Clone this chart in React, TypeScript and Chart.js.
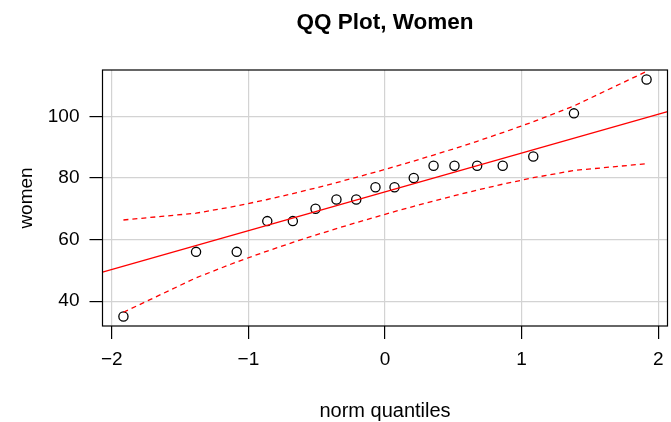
import React, { useEffect, useRef } from 'react';
import { Chart, registerables } from 'chart.js';

Chart.register(...registerables);

const TITLE = 'QQ Plot, Women';
const X_LABEL = 'norm quantiles';
const Y_LABEL = 'women';

const normQuantiles = [
  -1.9145, -1.383, -1.0853, -0.8616, -0.6745, -0.5085, -0.3554, -0.2104, -0.0697,
  0.0697, 0.2104, 0.3554, 0.5085, 0.6745, 0.8616, 1.0853, 1.383, 1.9145,
];
const women = [35, 56, 56, 66, 66, 70, 73, 73, 77, 77, 80, 84, 84, 84, 84, 87, 101, 112];
const upperEnvelope = [
  66.36, 68.56, 70.91, 73.01, 74.93, 76.74, 78.49, 80.21, 81.92,
  83.68, 85.51, 87.45, 89.56, 91.93, 94.73, 98.27, 103.42, 114.62,
];
const lowerEnvelope = [
  36.38, 47.58, 52.73, 56.27, 59.07, 61.44, 63.55, 65.49, 67.32,
  69.08, 70.79, 72.51, 74.26, 76.07, 77.99, 80.09, 82.44, 84.64,
];
const refLineX = [-2.0677, 2.0677];
const refLineY = [49.44, 101.56];

const xTicks = [-2, -1, 0, 1, 2];
const yTicks = [40, 60, 80, 100];
const xRange = [-2.0677, 2.0677];
const yRange = [31.92, 115.08];

const FONT = "'Liberation Sans', Arial, Helvetica, sans-serif";
const fmt = (v: number) => (v < 0 ? '\u2212' + Math.abs(v) : String(v));

const titlePlugin = {
  id: 'rTitle',
  afterDraw(chart: any) {
    const { ctx, chartArea } = chart;
    ctx.save();
    ctx.font = `bold 22.5px ${FONT}`;
    ctx.fillStyle = '#000';
    ctx.textAlign = 'center';
    ctx.textBaseline = 'middle';
    ctx.fillText(TITLE, (chartArea.left + chartArea.right) / 2, 23);
    ctx.restore();
  },
};

const boxPlugin = {
  id: 'rBox',
  afterDatasetsDraw(chart: any) {
    const { ctx, chartArea } = chart;
    ctx.save();
    ctx.strokeStyle = '#000';
    ctx.lineWidth = 1.2;
    ctx.strokeRect(chartArea.left, chartArea.top, chartArea.right - chartArea.left, chartArea.bottom - chartArea.top);
    ctx.restore();
  },
};

export default function App() {
  const ref = useRef<HTMLCanvasElement>(null);

  useEffect(() => {
    if (!ref.current) return;
    Chart.defaults.font.family = FONT;
    const pts = normQuantiles.map((q, i) => ({ x: q, y: women[i] }));
    const up = normQuantiles.map((q, i) => ({ x: q, y: upperEnvelope[i] }));
    const lo = normQuantiles.map((q, i) => ({ x: q, y: lowerEnvelope[i] }));
    const fit = refLineX.map((x, i) => ({ x, y: refLineY[i] }));

    const chart = new Chart(ref.current, {
      type: 'scatter',
      data: {
        datasets: [
          { label: 'fit', data: fit, showLine: true, borderColor: '#ff0000', borderWidth: 1.3, pointRadius: 0 },
          { label: 'upper', data: up, showLine: true, borderColor: '#ff0000', borderWidth: 1.3, borderDash: [5, 4], pointRadius: 0 },
          { label: 'lower', data: lo, showLine: true, borderColor: '#ff0000', borderWidth: 1.3, borderDash: [5, 4], pointRadius: 0 },
          {
            label: 'women',
            data: pts,
            showLine: false,
            pointStyle: 'circle',
            pointRadius: 4.6,
            borderColor: '#000',
            borderWidth: 1.3,
            backgroundColor: 'rgba(0,0,0,0)',
          },
        ],
      },
      options: {
        responsive: false,
        animation: false,
        devicePixelRatio: 1,
        layout: { autoPadding: false, padding: { top: 70, right: 3.5, left: 0, bottom: 0 } },
        plugins: { legend: { display: false }, tooltip: { enabled: false }, title: { display: false } },
        scales: {
          x: {
            type: 'linear',
            min: xRange[0],
            max: xRange[1],
            afterBuildTicks: (s: any) => {
              s.ticks = xTicks.map((v) => ({ value: v }));
            },
            afterFit: (s: any) => {
              s.height = 96;
              s.paddingLeft = 0;
              s.paddingRight = 0;
            },
            grid: { color: '#d3d3d3', lineWidth: 1.2, tickColor: '#000', tickWidth: 1.2, tickLength: 13 },
            border: { display: false },
            ticks: {
              color: '#000',
              font: { size: 19 },
              padding: 9.6,
              maxRotation: 0,
              autoSkip: false,
              callback: (v: any) => fmt(Number(v)),
            },
            title: { display: true, text: X_LABEL, color: '#000', font: { size: 20, lineHeight: 1.1 }, padding: { top: 0, bottom: 0 } },
          },
          y: {
            type: 'linear',
            min: yRange[0],
            max: yRange[1],
            afterBuildTicks: (s: any) => {
              s.ticks = yTicks.map((v) => ({ value: v }));
            },
            afterFit: (s: any) => {
              s.width = 102.5;
              s.paddingTop = 0;
              s.paddingBottom = 0;
            },
            grid: { color: '#d3d3d3', lineWidth: 1.2, tickColor: '#000', tickWidth: 1.2, tickLength: 13 },
            border: { display: false },
            ticks: { color: '#000', font: { size: 19 }, padding: 10, autoSkip: false, callback: (v: any) => fmt(Number(v)) },
            title: { display: true, text: Y_LABEL, color: '#000', font: { size: 19 }, padding: { top: 15.6, bottom: 0 } },
          },
        },
      },
      plugins: [titlePlugin, boxPlugin],
    });
    return () => chart.destroy();
  }, []);

  return (
    <div style={{ position: 'absolute', left: 0, top: 0, width: 671, height: 422 }}>
      <canvas ref={ref} width={671} height={422} style={{ display: 'block' }} />
    </div>
  );
}
